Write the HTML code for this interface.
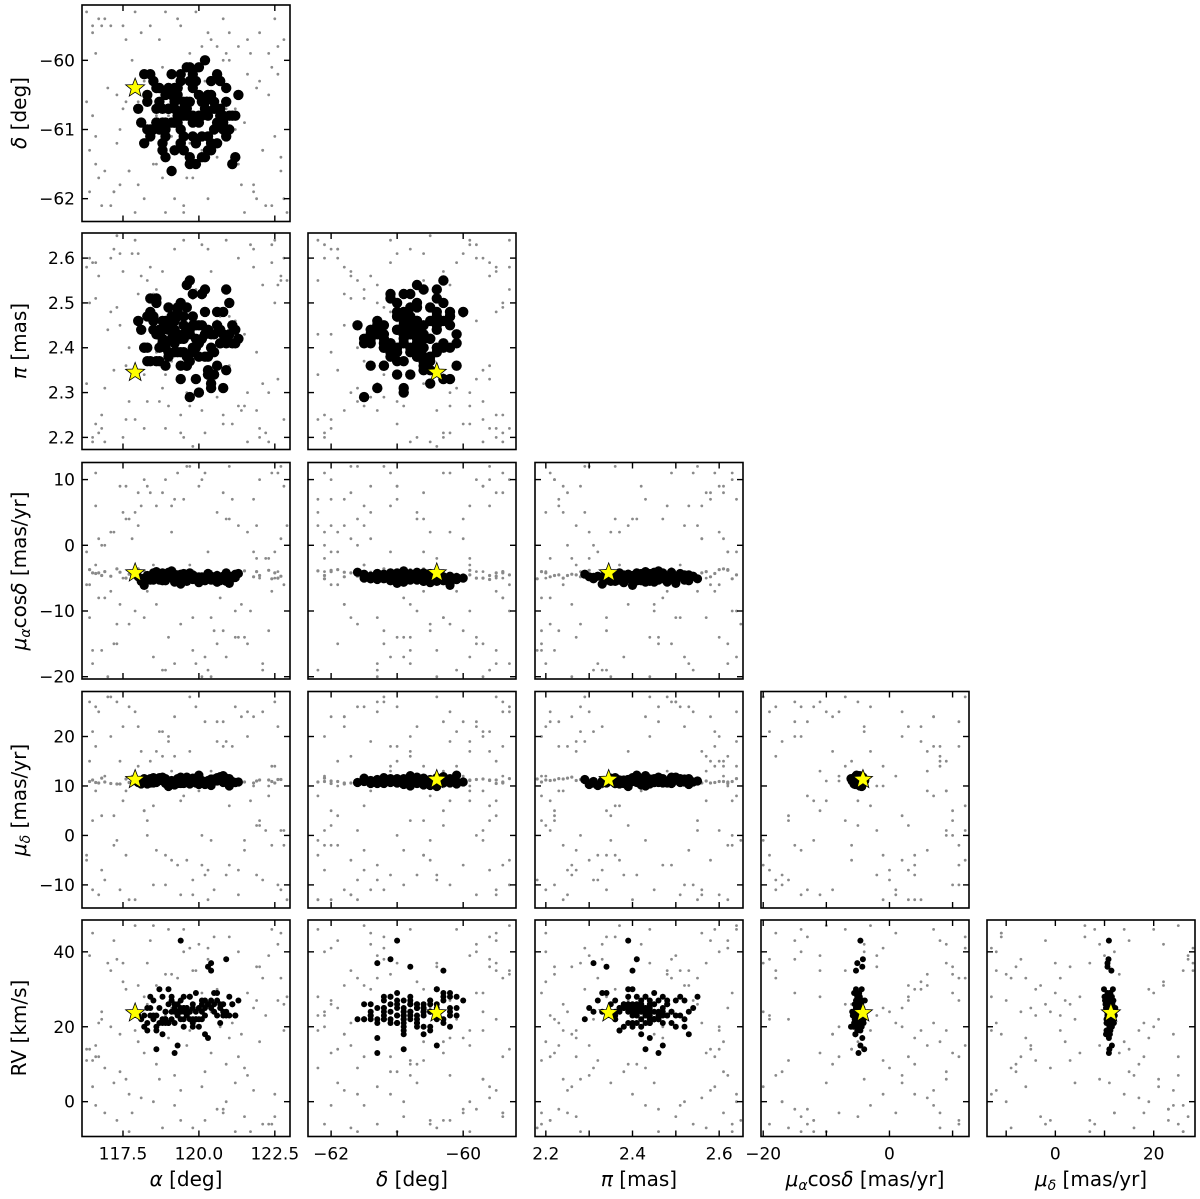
<!DOCTYPE html>
<html><head><meta charset="utf-8"><title>Corner plot</title>
<style>
html,body{margin:0;padding:0;background:#fff;}
svg{display:block;font-family:"DejaVu Sans","Liberation Sans",sans-serif;}
</style></head>
<body>
<svg id="chart" width="1200" height="1199" viewBox="0 0 1200 1199" xmlns="http://www.w3.org/2000/svg"></svg>
<script>
// ---- member stars ----
const memRa = [119.2,119.8,120.3,118.6,119.5,120.9,119.1,118.9,120.1,119.7,118.3,119.4,120.6,119.9,118.8,121.1,119.3,120.2,118.5,119.6,120.4,119.0,118.7,120.8,119.5,119.2,120.0,118.4,121.2,119.8,119.4,120.5,118.9,119.1,120.7,119.6,118.2,120.3,119.3,119.9,120.1,118.6,119.7,121.0,119.2,118.8,120.4,119.5,120.9,118.5,119.0,120.2,119.8,118.3,120.6,119.4,119.6,121.3,118.7,120.0,119.3,118.9,120.5,119.1,119.7,120.8,118.4,119.5,120.2,119.9,118.1,120.3,119.2,120.7,118.6,119.8,121.0,119.4,118.9,120.1,119.6,118.5,120.4,119.0,120.6,119.3,118.8,121.1,119.7,120.0,118.0,119.5,120.9,119.2,118.7,120.3,119.8,118.4,120.5,119.1,119.9,120.2,118.6,119.4,121.2,119.6,118.3,120.7,119.0,120.1,119.5,118.9,120.4,119.3,118.2,120.8,119.7,120.0,118.8,119.2];
const memDec = [-60.9,-60.4,-61.1,-60.7,-61.3,-60.6,-60.2,-61.0,-60.8,-61.4,-60.5,-61.2,-60.9,-60.3,-60.7,-61.5,-60.8,-60.6,-61.0,-60.1,-61.2,-60.7,-60.4,-60.9,-61.3,-60.6,-60.5,-61.1,-60.8,-60.2,-61.0,-60.6,-61.4,-60.9,-60.3,-60.7,-61.2,-60.8,-60.4,-61.5,-60.6,-60.9,-60.1,-61.0,-60.7,-61.3,-60.5,-60.8,-61.1,-60.3,-60.7,-61.4,-60.9,-60.6,-60.2,-61.2,-60.8,-60.5,-61.0,-60.9,-60.4,-61.1,-60.7,-61.6,-60.3,-60.8,-61.0,-60.6,-60.0,-61.2,-60.9,-60.5,-61.3,-60.7,-60.4,-61.1,-60.8,-60.2,-60.9,-61.4,-60.6,-61.0,-60.3,-60.7,-61.2,-60.5,-60.9,-60.8,-61.5,-60.1,-60.7,-61.1,-60.4,-60.9,-60.6,-61.3,-60.8,-60.2,-61.0,-60.5,-61.2,-60.7,-60.9,-60.3,-61.4,-60.6,-61.0,-60.8,-60.4,-61.1,-60.7,-60.5,-61.3,-60.9,-60.2,-61.0,-60.6,-60.8,-61.2,-60.4];
const memPlx = [2.41,2.45,2.38,2.50,2.43,2.35,2.47,2.40,2.52,2.44,2.37,2.42,2.48,2.33,2.46,2.41,2.39,2.53,2.44,2.36,2.43,2.49,2.40,2.31,2.45,2.42,2.38,2.51,2.44,2.47,2.39,2.43,2.36,2.46,2.41,2.54,2.40,2.34,2.48,2.42,2.45,2.37,2.43,2.50,2.39,2.44,2.32,2.47,2.41,2.46,2.38,2.43,2.52,2.40,2.45,2.36,2.49,2.42,2.44,2.30,2.47,2.41,2.39,2.45,2.55,2.43,2.37,2.42,2.48,2.40,2.44,2.35,2.46,2.41,2.51,2.39,2.43,2.33,2.45,2.42,2.38,2.47,2.40,2.44,2.36,2.49,2.42,2.45,2.29,2.41,2.46,2.39,2.53,2.43,2.37,2.44,2.40,2.48,2.34,2.42,2.45,2.38,2.43,2.50,2.41,2.36,2.47,2.44,2.39,2.52,2.42,2.46,2.31,2.43,2.40,2.48,2.37,2.45,2.41,2.44];
const memPmra = [-4.8,-5.2,-4.5,-5.0,-4.3,-5.5,-4.9,-4.6,-5.3,-4.7,-5.1,-4.4,-5.6,-4.8,-4.2,-5.0,-4.9,-5.4,-4.6,-5.2,-4.7,-4.1,-5.3,-4.9,-5.0,-4.5,-5.7,-4.8,-4.4,-5.1,-4.6,-5.2,-4.9,-3.9,-5.4,-4.7,-5.0,-4.3,-5.5,-4.8,-5.1,-4.6,-4.9,-5.8,-4.4,-5.2,-4.7,-5.0,-4.2,-5.3,-4.8,-5.1,-4.5,-4.9,-5.6,-4.7,-5.0,-4.3,-5.2,-4.8,-4.6,-5.4,-4.9,-4.1,-5.1,-4.7,-5.3,-4.4,-5.0,-4.8,-5.5,-4.6,-4.9,-5.2,-4.3,-5.0,-4.7,-5.9,-4.5,-5.1,-4.8,-4.2,-5.3,-4.9,-4.6,-5.0,-5.4,-4.7,-4.4,-5.2,-4.8,-5.1,-4.5,-5.6,-4.9,-4.3,-5.0,-4.7,-5.3,-4.6,-5.1,-4.8,-4.0,-5.2,-4.9,-5.5,-4.6,-5.0,-4.4,-4.8,-5.3,-4.7,-5.1,-4.5,-6.1,-4.9,-4.2,-5.0,-4.8,-5.2];
const memPmdec = [11.0,11.4,10.7,11.2,10.5,11.6,10.9,11.3,10.8,11.1,10.4,11.5,11.0,10.6,11.8,10.9,11.2,10.3,11.4,10.8,11.1,10.6,11.7,10.9,11.3,10.2,11.0,11.5,10.7,11.2,10.9,11.4,10.5,11.1,11.9,10.8,11.3,10.6,11.0,11.6,10.7,11.2,10.4,11.5,10.9,11.1,10.1,11.3,10.8,11.7,11.0,10.6,11.4,10.9,11.2,10.5,11.8,10.8,11.1,10.3,11.5,10.9,11.3,10.7,11.0,12.1,10.6,11.2,10.8,11.4,10.4,11.1,10.9,11.6,10.7,11.3,10.0,11.0,11.5,10.8,11.2,10.6,11.4,10.9,11.7,10.5,11.1,10.8,11.3,12.2,10.7,11.0,11.5,10.4,11.2,10.9,11.6,10.6,11.1,10.8,11.3,10.5,11.0,11.8,10.7,11.2,10.9,11.4,9.9,11.1,10.8,11.3,10.6,11.0,11.5,10.7,11.2,10.9,11.4,10.6];
const memRv = [24,22,26,20,25,23,28,21,27,24,19,25,23,29,22,26,24,18,27,23,25,21,30,24,22,26,20,28,23,25,43,24,22,27,21,25,23,36,26,22,24,19,28,23,25,21,27,24,38,22,26,23,20,25,29,22,24,27,21,25,15,24,26,22,28,23,25,20,27,24,22,26,13,25,23,21,28,24,22,26,25,23,35,21,27,24,18,26,22,25,23,28,24,21,25,17,26,23,29,24,22,25,14,27,23,24,21,26,30,22,25,24,37,23,20,26,24,22,28,25];
// ---- field stars ----
const fldRa = [116.5,121.8,118.2,122.4,119.7,117.3,120.9,116.9,122.7,118.8,120.3,117.6,121.2,119.1,116.4,122.0,118.5,120.6,117.9,121.5,119.4,116.7,122.6,118.0,120.1,117.1,121.9,119.8,116.6,122.3,118.6,120.8,117.4,121.0,119.2,116.8,122.5,118.3,120.4,117.7,121.6,119.5,116.3,122.1,118.9,120.7,117.2,121.3,119.0,116.6,122.8,118.4,120.2,117.5,121.7,119.6,117.0,122.2,118.1,120.5,117.8,121.4,119.3,116.5,122.9,118.7,120.0,117.3,121.1,119.9,116.9,122.4,118.2,120.6,117.6,121.8,119.4,116.4,122.0,118.8,120.3,117.1,121.5,119.1,116.7,122.6,118.5,120.9,117.9,121.2,119.7,116.3,122.3,118.0,120.4,117.4,121.9,119.2,116.8,122.7,118.6,120.1,117.7,121.0,119.5,116.5,122.1,118.3,120.8,117.2,121.6,119.8,116.6,122.5,118.9,120.2,117.5,121.3,119.0,122.8];
const fldDec = [-59.5,-61.8,-60.3,-62.1,-59.9,-61.2,-60.7,-59.4,-61.6,-60.1,-62.0,-59.7,-61.0,-60.5,-61.9,-59.6,-60.9,-61.4,-59.3,-62.2,-60.2,-61.7,-59.8,-60.6,-61.3,-59.5,-62.0,-60.4,-61.1,-59.9,-61.5,-60.0,-61.8,-59.6,-60.8,-62.1,-59.4,-61.0,-60.3,-61.6,-59.7,-62.2,-60.6,-61.3,-59.3,-60.9,-61.9,-59.8,-60.2,-61.5,-62.0,-59.5,-61.1,-60.7,-59.9,-61.7,-60.4,-62.1,-59.6,-61.2,-60.0,-61.8,-59.4,-60.8,-62.2,-59.7,-61.4,-60.5,-61.0,-59.3,-61.6,-60.1,-62.0,-59.8,-60.6,-61.9,-59.5,-61.3,-60.3,-61.7,-59.6,-62.1,-60.9,-61.1,-59.4,-60.2,-61.5,-59.9,-62.2,-60.7,-61.2,-59.3,-60.5,-61.8,-59.7,-61.0,-60.4,-62.0,-59.5,-61.4,-60.8,-59.8,-61.6,-60.0,-62.1,-59.6,-61.3,-60.6,-59.4,-61.9,-60.2,-61.7,-59.9,-61.1,-62.2,-60.3,-59.5,-61.5,-60.8,-59.7];
const fldPlx = [2.20,2.58,2.34,2.63,2.27,2.49,2.41,2.19,2.55,2.31,2.62,2.24,2.46,2.37,2.60,2.22,2.52,2.29,2.64,2.43,2.21,2.56,2.33,2.61,2.26,2.48,2.39,2.18,2.59,2.30,2.53,2.23,2.45,2.36,2.62,2.25,2.50,2.28,2.57,2.40,2.19,2.64,2.32,2.54,2.22,2.47,2.35,2.60,2.27,2.51,2.24,2.58,2.38,2.20,2.63,2.30,2.44,2.21,2.56,2.34,2.61,2.26,2.49,2.19,2.55,2.28,2.42,2.65,2.23,2.53,2.31,2.59,2.22,2.46,2.36,2.62,2.25,2.50,2.20,2.57,2.33,2.60,2.27,2.48,2.21,2.54,2.37,2.64,2.24,2.45,2.29,2.58,2.19,2.52,2.35,2.61,2.26,2.43,2.22,2.56,2.39,2.63,2.28,2.47,2.20,2.59,2.32,2.55,2.25,2.62,2.30,2.51,2.23,2.64,2.34,2.21,2.57,2.27,2.44,2.60];
const fldPmra = [-18,7,-11,11,-3,-15,4,-8,12,-19,-1,9,-14,2,-6,10,-17,5,-10,13,-12,1,-4,8,-20,-7,3,-16,11,-2,6,-13,-9,12,-18,0,-5,9,-11,4,-15,7,-1,-19,10,-8,2,-14,13,-3,-6,8,-17,5,-10,12,-20,-2,6,-13,1,-9,11,-16,3,-4,9,-12,7,-18,0,-7,10,-15,4,-1,13,-11,-5,8,-19,2,-14,6,-8,11,-3,-17,5,-10,12,-6,-13,3,-20,9,-2,7,-16,1,-9,10,-12,4,-4,13,-18,-7,8,-15,2,-11,6,-1,-19,11,-5,3,-14,9];
const fldPmdec = [-11,24,5,-2,17,27,-8,12,1,21,-13,9,26,-5,15,3,-10,19,25,-1,7,-12,22,14,-6,28,2,-9,18,10,-3,23,-11,6,16,-7,27,0,13,-13,20,8,-4,25,-10,11,4,-12,19,26,-2,15,-8,22,7,-5,28,1,17,-11,12,24,-6,3,-13,21,9,-1,18,26,-9,14,5,23,-4,10,-12,27,2,16,-7,20,-3,13,25,-10,6,19,-13,11,28,-5,8,22,-1,15,-8,24,4,-11,17,0,26,-6,12,21,-9,3,18,-2,25,-12,9,14,-4,23,7,-7,20,1];
const fldRv = [45,3,28,-6,19,38,10,-3,33,22,41,6,-8,25,14,36,0,30,47,9,-5,21,42,16,4,35,27,-7,12,39,31,-2,18,44,7,24,-4,37,13,2,29,46,11,-6,34,20,5,40,17,-1,26,43,8,32,-8,15,37,23,1,44,-3,18,33,11,28,6,42,-5,21,35,9,46,13,-2,30,25,3,39,16,-7,38,20,-4,34,12,27,47,0,19,5,41,14,-6,31,24,8,36,-1,22,45,10,29,-8,17,40,4,33,26,-3,43,7,35,15,2,23,-5,37,12,46,19];
// ---- proper-motion band stars (positions taken from first 40 field entries) ----
const bandPmra = [-4.2,-4.8,-3.9,-5.1,-4.5,-3.6,-5.3,-4.0,-4.7,-4.4,-3.8,-5.0,-4.3,-4.9,-3.7,-4.6,-5.2,-4.1,-4.5,-3.9,-4.8,-4.2,-5.0,-3.6,-4.4,-4.7,-4.0,-5.1,-4.3,-3.8,-4.9,-4.5,-4.1,-5.2,-3.7,-4.6,-4.2,-4.8,-4.0,-4.4];
const bandPmdec = [11.2,10.6,11.5,10.9,11.1,10.4,11.7,10.8,11.3,11.0,10.5,11.4,10.7,11.6,10.9,11.2,10.3,11.0,11.5,10.8,11.1,10.6,11.3,10.9,11.8,10.5,11.0,11.4,10.7,11.2,10.9,11.5,10.4,11.1,10.8,11.6,10.6,11.3,11.0,10.7];
// ---- highlighted star ----
const starVals = [117.9,-60.4,2.345,-4.2,11.3,23.7];
// ---- axes ----
const varNames = ['ra','dec','plx','pmra','pmdec','rv'];
const xRanges = [[116.15,123.0],[-62.35,-59.2],[2.175,2.655],[-20.35,12.6],[-13.9,28.4]];
const yRanges = [null,[-62.33,-59.2],[2.173,2.656],[-20.35,12.6],[-14.67,29.1],[-9.3,48.5]];
const xTicks = [[117.5,120,122.5],[-62,-61,-60],[2.2,2.3,2.4,2.5,2.6],[-20,-10,0,10],[-10,0,10,20]];
const xTickLabels = [['117.5','120.0','122.5'],['−62','','−60'],['2.2','','2.4','','2.6'],['−20','','0',''],['','0','','20']];
const yTicks = [null,[-62,-61,-60],[2.2,2.3,2.4,2.5,2.6],[-20,-10,0,10],[-10,0,10,20],[0,20,40]];
const yTickLabels = [null,['−62','−61','−60'],['2.2','2.3','2.4','2.5','2.6'],['−20','−10','0','10'],['−10','0','10','20'],['0','20','40']];

const NS='http://www.w3.org/2000/svg';
const svg=document.getElementById('chart');
const PL=[82,308,535,761,987], PT=[5,233,462.5,691.5,920], PW=208, PH=216.5;
function el(tag,attrs,parent){const e=document.createElementNS(NS,tag);for(const k in attrs)e.setAttribute(k,attrs[k]);(parent||svg).appendChild(e);return e;}
function getVals(v){return [memRa,memDec,memPlx,memPmra,memPmdec,memRv][v];}
function getFld(v){return [fldRa,fldDec,fldPlx,fldPmra,fldPmdec,fldRv][v];}
function starPath(cx,cy,R){let p='';for(let i=0;i<10;i++){const r=i%2?R*0.42:R;const a=-Math.PI/2+i*Math.PI/5;p+=(i?'L':'M')+(cx+r*Math.cos(a)).toFixed(2)+','+(cy+r*Math.sin(a)).toFixed(2);}return p+'Z';}

for(let r=0;r<5;r++){
  const yv=r+1;
  for(let c=0;c<=r;c++){
    const xv=c;
    const x0=PL[c], y0=PT[r];
    const xr=xRanges[xv], yr=yRanges[yv];
    const sx=v=>x0+(v-xr[0])/(xr[1]-xr[0])*PW;
    const sy=v=>y0+PH-(v-yr[0])/(yr[1]-yr[0])*PH;
    const g=el('g',{});
    
    
    const cid='clip'+r+c;
    const cp=el('clipPath',{id:cid},g);
    el('rect',{x:x0,y:y0,width:PW,height:PH},cp);
    const pts=el('g',{'clip-path':'url(#'+cid+')'},g);
    const fx=getFld(xv), fy=getFld(yv);
    for(let i=0;i<fx.length;i++){
      const d=el('circle',{cx:sx(fx[i]).toFixed(1),cy:sy(fy[i]).toFixed(1),r:1.4,fill:'#8a8a8a'},pts);
      
      
    }
    if(yv===3||yv===4){
      const bx=xv===3?bandPmra:(xv===4?bandPmdec:getFld(xv));
      const by=yv===3?bandPmra:bandPmdec;
      for(let i=0;i<bandPmra.length;i++){
        const d=el('circle',{cx:sx(bx[i]).toFixed(1),cy:sy(by[i]).toFixed(1),r:1.6,fill:'#8a8a8a'},pts);
        
        
      }
    }
    const mx=getVals(xv), my=getVals(yv);
    const mr = yv===5 ? 3 : (yv<=2 ? 5.2 : 4.6);
    for(let i=0;i<mx.length;i++){
      const d=el('circle',{cx:sx(mx[i]).toFixed(1),cy:sy(my[i]).toFixed(1),r:mr,fill:'#000'},pts);
      
      
    }
    const s=el('path',{d:starPath(sx(starVals[xv]),sy(starVals[yv]),10),fill:'#ffff00',stroke:'#000','stroke-width':0.8},g);
    
    
    const fr=el('rect',{x:x0,y:y0,width:PW,height:PH,fill:'none',stroke:'#000','stroke-width':1.6},g);
    
    
    xTicks[xv].forEach((t,k)=>{
      const X=sx(t);
      el('line',{x1:X,y1:y0+PH,x2:X,y2:y0+PH-6,stroke:'#000','stroke-width':1.4},g);
      el('line',{x1:X,y1:y0,x2:X,y2:y0+6,stroke:'#000','stroke-width':1.4},g);
      if(r===4 && xTickLabels[xv][k]){
        const tl=el('text',{x:X,y:y0+PH+23,'text-anchor':'middle','font-size':17},g);
        tl.textContent=xTickLabels[xv][k];
        
        
      }
    });
    yTicks[yv].forEach((t,k)=>{
      const Y=sy(t);
      el('line',{x1:x0,y1:Y,x2:x0+6,y2:Y,stroke:'#000','stroke-width':1.4},g);
      el('line',{x1:x0+PW,y1:Y,x2:x0+PW-6,y2:Y,stroke:'#000','stroke-width':1.4},g);
      if(c===0){
        const tl=el('text',{x:x0-7,y:Y+6,'text-anchor':'end','font-size':17},g);
        tl.textContent=yTickLabels[yv][k];
        
        
      }
    });
  }
}
</script>
<svg style="position:absolute;left:0;top:0" width="1200" height="1199">
  <g font-family="DejaVu Sans, Liberation Sans, sans-serif" font-size="20" fill="#000">
    <text transform="translate(26,113) rotate(-90)" text-anchor="middle"><tspan font-style="italic">δ</tspan> [deg]</text>
    <text transform="translate(26,341) rotate(-90)" text-anchor="middle"><tspan font-style="italic">π</tspan> [mas]</text>
    <text transform="translate(26,571) rotate(-90)" text-anchor="middle"><tspan font-style="italic">μ</tspan><tspan font-style="italic" font-size="14" dy="4">α</tspan><tspan dy="-4">cos</tspan><tspan font-style="italic">δ</tspan> [mas/yr]</text>
    <text transform="translate(26,800) rotate(-90)" text-anchor="middle"><tspan font-style="italic">μ</tspan><tspan font-style="italic" font-size="14" dy="4">δ</tspan><tspan dy="-4"> [mas/yr]</tspan></text>
    <text transform="translate(26,1028) rotate(-90)" text-anchor="middle">RV [km/s]</text>
    <text x="186" y="1186" text-anchor="middle"><tspan font-style="italic">α</tspan> [deg]</text>
    <text x="412" y="1186" text-anchor="middle"><tspan font-style="italic">δ</tspan> [deg]</text>
    <text x="639" y="1186" text-anchor="middle"><tspan font-style="italic">π</tspan> [mas]</text>
    <text x="865" y="1186" text-anchor="middle"><tspan font-style="italic">μ</tspan><tspan font-style="italic" font-size="14" dy="4">α</tspan><tspan dy="-4">cos</tspan><tspan font-style="italic">δ</tspan> [mas/yr]</text>
    <text x="1091" y="1186" text-anchor="middle"><tspan font-style="italic">μ</tspan><tspan font-style="italic" font-size="14" dy="4">δ</tspan><tspan dy="-4"> [mas/yr]</tspan></text>
  </g>
</svg>
</body></html>
